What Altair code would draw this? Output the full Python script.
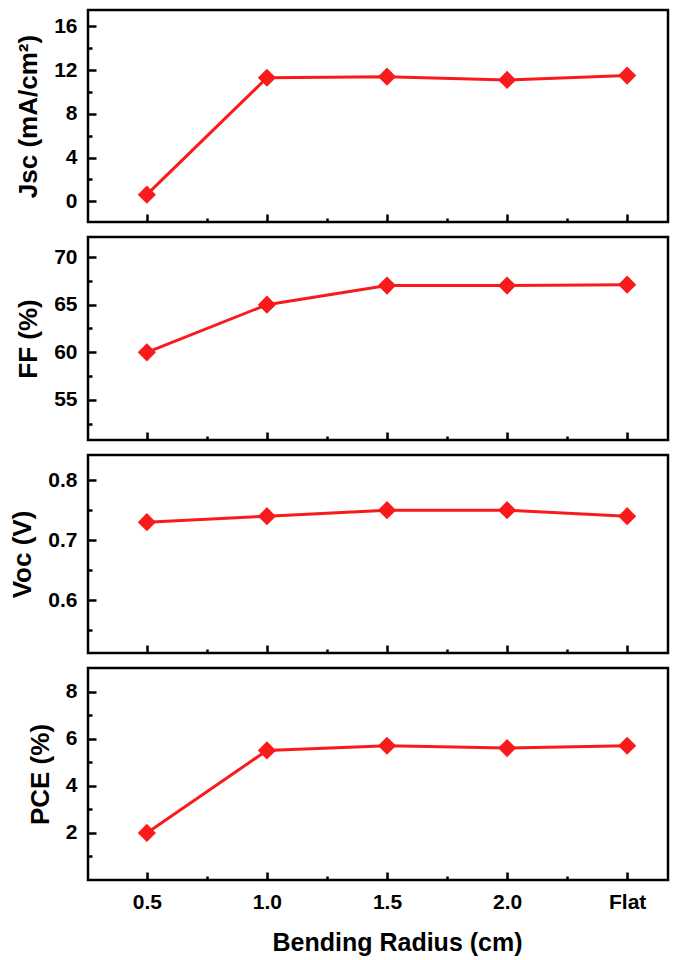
import json
import altair as alt
import pandas as pd

# ---- data ----
categories = ["0.5", "1.0", "1.5", "2.0", "Flat"]
positions = [0, 1, 2, 3, 4]
jsc = [0.6, 11.3, 11.4, 11.1, 11.5]
ff = [60.0, 65.0, 67.0, 67.0, 67.1]
voc = [0.73, 0.74, 0.75, 0.75, 0.74]
pce = [2.0, 5.5, 5.7, 5.6, 5.7]

x_major = [0, 1, 2, 3, 4]
x_minor = [0.5, 1.5, 2.5, 3.5]

RED = "#f91b1b"
FONT = "Liberation Sans"
label_expr = json.dumps(categories) + "[round(datum.value)]"


def panel(values, ytitle, ydomain, ymajor, yminor, height, fmt, bottom=False):
    df = pd.DataFrame({"pos": positions, "cat": categories, "v": values})
    base = alt.Chart(df)
    xs = alt.Scale(domain=[-0.49, 4.34], nice=False, zero=False)
    ys = alt.Scale(domain=ydomain, nice=False, zero=False)

    x_kwargs = dict(
        values=x_major, labelExpr=label_expr, ticks=False, domain=False,
        grid=False, labels=bottom, labelPadding=11,
    )
    if bottom:
        x_kwargs.update(title="Bending Radius (cm)", titlePadding=18, titleX=309,
                        titleAlign="center", titleFontSize=25)
    else:
        x_kwargs.update(title=None)
    x_main = alt.Axis(**x_kwargs)
    y_main = alt.Axis(
        values=ymajor, format=fmt, ticks=False, domain=False, grid=False,
        labelPadding=11, titlePadding=12, title=ytitle,
    )
    x_maj = alt.Axis(values=x_major, orient="bottom", offset=-8, tickSize=8,
                     tickWidth=2.5, labels=False, domain=False, grid=False, title=None)
    y_maj = alt.Axis(values=ymajor, orient="left", offset=-8, tickSize=8,
                     tickWidth=2.5, labels=False, domain=False, grid=False, title=None)
    x_min = alt.Axis(values=x_minor, orient="bottom", offset=-4, tickSize=4,
                     tickWidth=2.5, labels=False, domain=False, grid=False, title=None)
    y_min = alt.Axis(values=yminor, orient="left", offset=-4, tickSize=4,
                     tickWidth=2.5, labels=False, domain=False, grid=False, title=None)

    line = base.mark_line(color=RED, strokeWidth=3).encode(
        x=alt.X("pos:Q", scale=xs, axis=x_main),
        y=alt.Y("v:Q", scale=ys, axis=y_main),
    )
    pts = base.mark_point(shape="diamond", filled=True, size=330, color=RED, opacity=1).encode(
        x=alt.X("pos:Q", scale=xs, axis=x_maj),
        y=alt.Y("v:Q", scale=ys, axis=y_maj),
    )
    ghost = base.mark_point(opacity=0).encode(
        x=alt.X("pos:Q", scale=xs, axis=x_min),
        y=alt.Y("v:Q", scale=ys, axis=y_min),
    )
    return (
        alt.layer(line, pts, ghost)
        .resolve_axis(x="independent", y="independent")
        .properties(width=580, height=height)
    )


p1 = panel(jsc, "Jsc (mA/cm²)", [-1.9, 17.5], [0, 4, 8, 12, 16], [2, 6, 10, 14], 212, "d")
p2 = panel(ff, "FF (%)", [50.8, 72.1], [55, 60, 65, 70], [52.5, 57.5, 62.5, 67.5], 203, "d")
p3 = panel(voc, "Voc (V)", [0.512, 0.842], [0.6, 0.7, 0.8], [0.55, 0.65, 0.75], 198, ".1f")
p4 = panel(pce, "PCE (%)", [0.0, 9.0], [2, 4, 6, 8], [1, 3, 5, 7], 212, "d", bottom=True)

chart = (
    alt.vconcat(p1, p2, p3, p4, spacing=10)
    .properties(padding={"left": 0, "top": 0, "right": 5, "bottom": 0}, background="white")
    .configure_view(stroke="black", strokeWidth=2.5)
    .configure_axis(
        labelFont=FONT, labelFontWeight="bold", labelFontSize=21, labelColor="black",
        titleFont=FONT, titleFontWeight="bold", titleFontSize=26, titleColor="black",
        tickColor="black",
    )
)

chart.save("out.html", embed_options={"renderer": "svg", "actions": False})
